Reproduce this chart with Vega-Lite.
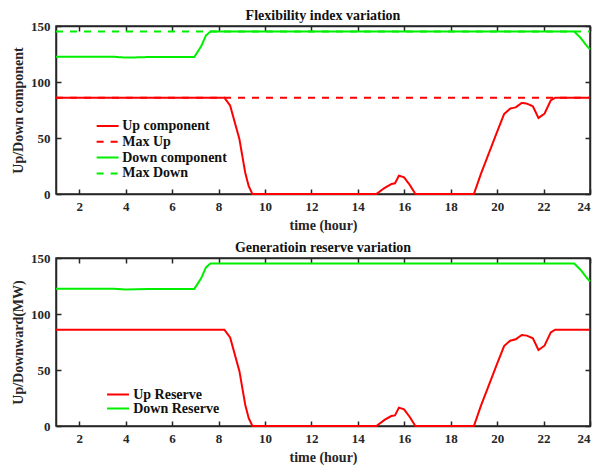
{
  "$schema": "https://vega.github.io/schema/vega-lite/v6.json",
  "background": "white",
  "padding": {"left": 10, "top": 8, "right": 5, "bottom": 2},
  "spacing": 7,
  "config": {
    "font": "Liberation Serif",
    "view": {"stroke": "#262626", "strokeWidth": 1.5},
    "axis": {
      "grid": false,
      "domain": true,
      "domainColor": "#262626",
      "domainWidth": 1.5,
      "tickColor": "#262626",
      "tickWidth": 1.5,
      "tickSize": -5,
      "labelPadding": 11,
      "labelColor": "#262626",
      "labelFont": "Liberation Serif",
      "labelFontWeight": "bold",
      "labelFontSize": 13,
      "titleColor": "#262626",
      "titleFont": "Liberation Serif",
      "titleFontWeight": "bold",
      "titleFontSize": 14
    },
    "title": {"font": "Liberation Serif", "fontWeight": "bold", "fontSize": 14, "color": "#111111", "offset": -3},
    "legend": {
      "orient": "none",
      "title": null,
      "symbolType": "M-2.5,0H2.5",
      "symbolStrokeWidth": 2,
      "symbolSize": 77,
      "labelFont": "Liberation Serif",
      "labelFontWeight": "bold",
      "labelFontSize": 14,
      "labelColor": "#111111",
      "labelOffset": 7.6,
      "rowPadding": 1.8,
      "padding": 0
    }
  },
  "resolve": {
    "scale": {"x": "independent", "y": "independent", "color": "independent", "strokeDash": "independent"},
    "legend": {"color": "independent", "strokeDash": "independent"}
  },
  "datasets": {
    "maxes": [
      {"hour": 1, "value": 86, "series": "Max Up"},
      {"hour": 24, "value": 86, "series": "Max Up"},
      {"hour": 1, "value": 145, "series": "Max Down"},
      {"hour": 24, "value": 145, "series": "Max Down"}
    ],
    "comps": [
      {"hour": 1, "value": 86, "series": "Up component"},
      {"hour": 8.25, "value": 86, "series": "Up component"},
      {"hour": 8.5, "value": 79, "series": "Up component"},
      {"hour": 8.9, "value": 49, "series": "Up component"},
      {"hour": 9.15, "value": 19, "series": "Up component"},
      {"hour": 9.3, "value": 7, "series": "Up component"},
      {"hour": 9.46, "value": 0, "series": "Up component"},
      {"hour": 14.8, "value": 0, "series": "Up component"},
      {"hour": 15.15, "value": 5.4, "series": "Up component"},
      {"hour": 15.44, "value": 8.9, "series": "Up component"},
      {"hour": 15.6, "value": 9.5, "series": "Up component"},
      {"hour": 15.77, "value": 16.4, "series": "Up component"},
      {"hour": 15.99, "value": 14.9, "series": "Up component"},
      {"hour": 16.23, "value": 8.3, "series": "Up component"},
      {"hour": 16.48, "value": 0, "series": "Up component"},
      {"hour": 19.0, "value": 0, "series": "Up component"},
      {"hour": 19.3, "value": 17.9, "series": "Up component"},
      {"hour": 19.62, "value": 35.1, "series": "Up component"},
      {"hour": 19.98, "value": 54.5, "series": "Up component"},
      {"hour": 20.3, "value": 71.4, "series": "Up component"},
      {"hour": 20.56, "value": 76.2, "series": "Up component"},
      {"hour": 20.8, "value": 77.4, "series": "Up component"},
      {"hour": 21.06, "value": 81.3, "series": "Up component"},
      {"hour": 21.28, "value": 80.7, "series": "Up component"},
      {"hour": 21.54, "value": 78.3, "series": "Up component"},
      {"hour": 21.78, "value": 67.9, "series": "Up component"},
      {"hour": 22.04, "value": 71.7, "series": "Up component"},
      {"hour": 22.31, "value": 83.6, "series": "Up component"},
      {"hour": 22.5, "value": 86, "series": "Up component"},
      {"hour": 24, "value": 86, "series": "Up component"},
      {"hour": 1, "value": 122.5, "series": "Down component"},
      {"hour": 3.5, "value": 122.5, "series": "Down component"},
      {"hour": 4, "value": 121.8, "series": "Down component"},
      {"hour": 4.5, "value": 122, "series": "Down component"},
      {"hour": 5, "value": 122.3, "series": "Down component"},
      {"hour": 6.96, "value": 122.4, "series": "Down component"},
      {"hour": 7.25, "value": 131.8, "series": "Down component"},
      {"hour": 7.46, "value": 141.6, "series": "Down component"},
      {"hour": 7.65, "value": 145, "series": "Down component"},
      {"hour": 23.32, "value": 145, "series": "Down component"},
      {"hour": 23.6, "value": 139.3, "series": "Down component"},
      {"hour": 23.82, "value": 133.3, "series": "Down component"},
      {"hour": 24, "value": 129, "series": "Down component"}
    ],
    "upres": [
      {"hour": 1, "value": 86, "series": "Up Reserve"},
      {"hour": 8.25, "value": 86, "series": "Up Reserve"},
      {"hour": 8.5, "value": 79, "series": "Up Reserve"},
      {"hour": 8.9, "value": 49, "series": "Up Reserve"},
      {"hour": 9.15, "value": 19, "series": "Up Reserve"},
      {"hour": 9.3, "value": 7, "series": "Up Reserve"},
      {"hour": 9.46, "value": 0, "series": "Up Reserve"},
      {"hour": 14.8, "value": 0, "series": "Up Reserve"},
      {"hour": 15.15, "value": 5.4, "series": "Up Reserve"},
      {"hour": 15.44, "value": 8.9, "series": "Up Reserve"},
      {"hour": 15.6, "value": 9.5, "series": "Up Reserve"},
      {"hour": 15.77, "value": 16.4, "series": "Up Reserve"},
      {"hour": 15.99, "value": 14.9, "series": "Up Reserve"},
      {"hour": 16.23, "value": 8.3, "series": "Up Reserve"},
      {"hour": 16.48, "value": 0, "series": "Up Reserve"},
      {"hour": 19.0, "value": 0, "series": "Up Reserve"},
      {"hour": 19.3, "value": 17.9, "series": "Up Reserve"},
      {"hour": 19.62, "value": 35.1, "series": "Up Reserve"},
      {"hour": 19.98, "value": 54.5, "series": "Up Reserve"},
      {"hour": 20.3, "value": 71.4, "series": "Up Reserve"},
      {"hour": 20.56, "value": 76.2, "series": "Up Reserve"},
      {"hour": 20.8, "value": 77.4, "series": "Up Reserve"},
      {"hour": 21.06, "value": 81.3, "series": "Up Reserve"},
      {"hour": 21.28, "value": 80.7, "series": "Up Reserve"},
      {"hour": 21.54, "value": 78.3, "series": "Up Reserve"},
      {"hour": 21.78, "value": 67.9, "series": "Up Reserve"},
      {"hour": 22.04, "value": 71.7, "series": "Up Reserve"},
      {"hour": 22.31, "value": 83.6, "series": "Up Reserve"},
      {"hour": 22.5, "value": 86, "series": "Up Reserve"},
      {"hour": 24, "value": 86, "series": "Up Reserve"}
    ],
    "downres": [
      {"hour": 1, "value": 122.5, "series": "Down Reserve"},
      {"hour": 3.5, "value": 122.5, "series": "Down Reserve"},
      {"hour": 4, "value": 121.8, "series": "Down Reserve"},
      {"hour": 4.5, "value": 122, "series": "Down Reserve"},
      {"hour": 5, "value": 122.3, "series": "Down Reserve"},
      {"hour": 6.96, "value": 122.4, "series": "Down Reserve"},
      {"hour": 7.25, "value": 131.8, "series": "Down Reserve"},
      {"hour": 7.46, "value": 141.6, "series": "Down Reserve"},
      {"hour": 7.65, "value": 145, "series": "Down Reserve"},
      {"hour": 23.32, "value": 145, "series": "Down Reserve"},
      {"hour": 23.6, "value": 139.3, "series": "Down Reserve"},
      {"hour": 23.82, "value": 133.3, "series": "Down Reserve"},
      {"hour": 24, "value": 129, "series": "Down Reserve"}
    ]
  },
  "vconcat": [
    {
      "title": "Flexibility index variation",
      "width": 534,
      "height": 168,
      "layer": [
        {
          "data": {"name": "maxes"},
          "mark": {"type": "line", "strokeWidth": 2},
          "encoding": {
            "x": {"field": "hour", "type": "quantitative", "scale": {"domain": [1, 24], "nice": false, "zero": false},
                  "axis": {"orient": "bottom", "values": [2, 4, 6, 8, 10, 12, 14, 16, 18, 20, 22, 24], "title": "time (hour)", "titlePadding": 5}},
            "y": {"field": "value", "type": "quantitative", "scale": {"domain": [0, 150], "nice": false},
                  "axis": {"orient": "left", "values": [0, 50, 100, 150], "title": "Up/Down component", "titlePadding": 5}},
            "color": {"field": "series", "type": "nominal",
                      "scale": {"domain": ["Up component", "Max Up", "Down component", "Max Down"], "range": ["#ff0000", "#ff0000", "#00ee00", "#00ee00"]},
                      "legend": {"legendX": 44.6, "legendY": 93}},
            "strokeDash": {"field": "series", "type": "nominal",
                      "scale": {"domain": ["Up component", "Max Up", "Down component", "Max Down"], "range": [[1, 0], [7, 7], [1, 0], [7, 7]]},
                      "legend": {"legendX": 44.6, "legendY": 93}}
          }
        },
        {
          "data": {"name": "comps"},
          "mark": {"type": "line", "strokeWidth": 2},
          "encoding": {
            "x": {"field": "hour", "type": "quantitative", "axis": {"orient": "top", "values": [2, 4, 6, 8, 10, 12, 14, 16, 18, 20, 22, 24], "labels": false, "title": null, "labelPadding": 0, "minExtent": 0, "maxExtent": 0}},
            "y": {"field": "value", "type": "quantitative", "axis": {"orient": "right", "values": [0, 50, 100, 150], "labels": false, "title": null, "labelPadding": 0, "minExtent": 0, "maxExtent": 0}},
            "color": {"field": "series", "type": "nominal"},
            "strokeDash": {"field": "series", "type": "nominal"}
          }
        }
      ]
    },
    {
      "title": "Generatioin reserve variation",
      "width": 534,
      "height": 168,
      "layer": [
        {
          "data": {"name": "upres"},
          "mark": {"type": "line", "strokeWidth": 2},
          "encoding": {
            "x": {"field": "hour", "type": "quantitative", "scale": {"domain": [1, 24], "nice": false, "zero": false},
                  "axis": {"orient": "bottom", "values": [2, 4, 6, 8, 10, 12, 14, 16, 18, 20, 22, 24], "title": "time (hour)", "titlePadding": 5}},
            "y": {"field": "value", "type": "quantitative", "scale": {"domain": [0, 150], "nice": false},
                  "axis": {"orient": "left", "values": [0, 50, 100, 150], "title": "Up/Downward(MW)", "titlePadding": 5}},
            "color": {"field": "series", "type": "nominal",
                      "scale": {"domain": ["Up Reserve", "Down Reserve"], "range": ["#ff0000", "#00ee00"]},
                      "legend": {"legendX": 55, "legendY": 129.5, "labelOffset": 8.2, "rowPadding": -0.5}}
          }
        },
        {
          "data": {"name": "downres"},
          "mark": {"type": "line", "strokeWidth": 2},
          "encoding": {
            "x": {"field": "hour", "type": "quantitative", "axis": {"orient": "top", "values": [2, 4, 6, 8, 10, 12, 14, 16, 18, 20, 22, 24], "labels": false, "title": null, "labelPadding": 0, "minExtent": 0, "maxExtent": 0}},
            "y": {"field": "value", "type": "quantitative", "axis": {"orient": "right", "values": [0, 50, 100, 150], "labels": false, "title": null, "labelPadding": 0, "minExtent": 0, "maxExtent": 0}},
            "color": {"field": "series", "type": "nominal"}
          }
        }
      ]
    }
  ]
}
